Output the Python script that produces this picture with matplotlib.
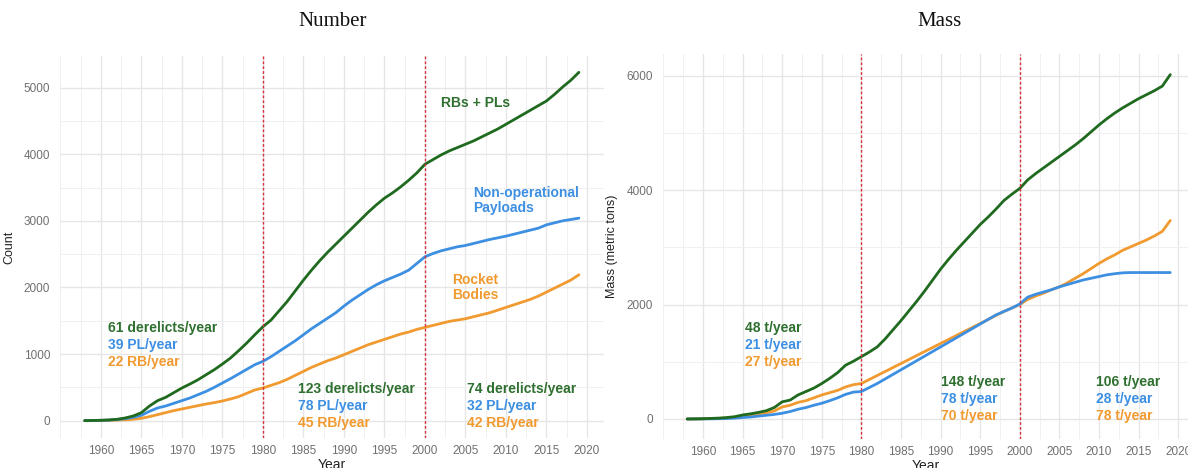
import numpy as np
import matplotlib
matplotlib.use('Agg')
import matplotlib.pyplot as plt
from matplotlib.ticker import MultipleLocator

# ---------------------------------------------------------------------------
# Data (cumulative derelicts per year)
# ---------------------------------------------------------------------------
years = np.arange(1958, 2020)

# Number of objects
num_total = [0, 2, 5, 10, 20, 40, 70, 120, 220, 300, 350, 420, 490, 550, 615, 690,
             765, 850, 940, 1050, 1165, 1290, 1410, 1510, 1650, 1790, 1950, 2110, 2260,
             2400, 2530, 2650, 2770, 2890, 3010, 3130, 3240, 3340, 3420, 3510, 3610,
             3720, 3850, 3920, 3990, 4050, 4100, 4150, 4200, 4260, 4320, 4380, 4450,
             4520, 4590, 4660, 4730, 4800, 4900, 5010, 5110, 5230]
num_payloads = [0, 2, 5, 8, 15, 30, 50, 80, 140, 190, 220, 260, 300, 340, 390, 440,
                500, 565, 630, 700, 770, 840, 890, 960, 1040, 1120, 1200, 1290, 1380,
                1460, 1540, 1620, 1720, 1810, 1890, 1970, 2040, 2100, 2150, 2200, 2260,
                2360, 2460, 2510, 2550, 2580, 2610, 2630, 2660, 2690, 2720, 2745, 2770,
                2800, 2830, 2860, 2890, 2940, 2970, 3000, 3020, 3040]
num_rockets = [0, 1, 3, 5, 8, 12, 20, 35, 60, 90, 120, 150, 175, 200, 225, 250,
               270, 295, 325, 360, 410, 460, 490, 530, 570, 620, 680, 740, 800,
               850, 900, 940, 990, 1040, 1090, 1140, 1180, 1220, 1260, 1300, 1330,
               1370, 1400, 1430, 1460, 1490, 1510, 1530, 1560, 1590, 1620, 1660, 1700,
               1740, 1780, 1820, 1870, 1930, 1990, 2050, 2110, 2190]

# Mass (metric tons)
mass_total = [0, 2, 5, 10, 15, 25, 40, 70, 90, 115, 145, 200, 300, 330, 420, 480,
              540, 620, 710, 810, 940, 1010, 1090, 1170, 1260, 1400, 1560, 1720, 1890,
              2060, 2240, 2430, 2620, 2790, 2950, 3100, 3250, 3400, 3530, 3670, 3820,
              3930, 4030, 4180, 4290, 4390, 4490, 4590, 4690, 4790, 4900, 5020, 5140,
              5250, 5350, 5440, 5520, 5600, 5670, 5740, 5820, 6020]
mass_payloads = [0, 0, 1, 3, 5, 8, 15, 25, 35, 50, 65, 80, 100, 130, 170, 200,
                 240, 275, 320, 370, 430, 470, 480, 550, 620, 700, 780, 860, 940,
                 1020, 1100, 1180, 1260, 1340, 1420, 1500, 1580, 1660, 1740, 1820, 1880,
                 1940, 2010, 2130, 2180, 2220, 2260, 2310, 2350, 2390, 2430, 2460, 2490,
                 2520, 2540, 2555, 2560, 2560, 2560, 2560, 2560, 2560]
mass_rockets = [0, 1, 3, 6, 10, 18, 30, 50, 70, 90, 110, 140, 210, 240, 290, 320,
                370, 420, 460, 500, 560, 600, 620, 690, 760, 830, 900, 970, 1040,
                1110, 1180, 1250, 1320, 1390, 1460, 1530, 1600, 1670, 1740, 1810, 1880,
                1940, 2000, 2090, 2150, 2200, 2260, 2310, 2380, 2460, 2540, 2630, 2720,
                2800, 2870, 2950, 3010, 3070, 3130, 3200, 3280, 3470]

breaks = [1980, 2000]

num_rates = [
    ['61 derelicts/year', '39 PL/year', '22 RB/year'],
    ['123 derelicts/year', '78 PL/year', '45 RB/year'],
    ['74 derelicts/year', '32 PL/year', '42 RB/year'],
]
mass_rates = [
    ['48 t/year', '21 t/year', '27 t/year'],
    ['148 t/year', '78 t/year', '70 t/year'],
    ['106 t/year', '28 t/year', '78 t/year'],
]

GREEN = '#1f6a1f'
GREEN_TXT = '#2f7030'
BLUE = '#3d8fe2'
ORANGE = '#f19a30'
RED = '#d4323c'

plt.rcParams['font.family'] = ['Liberation Sans', 'DejaVu Sans']

fig = plt.figure(figsize=(11.88, 4.68), dpi=100)
W, H = 1188, 468


def px_axes(x0, y0, x1, y1):
    return fig.add_axes([x0 / W, 1 - y1 / H, (x1 - x0) / W, (y1 - y0) / H])


def style_axes(ax, ymajor, yminor):
    ax.set_facecolor('white')
    for s in ax.spines.values():
        s.set_visible(False)
    ax.xaxis.set_major_locator(MultipleLocator(5))
    ax.xaxis.set_minor_locator(MultipleLocator(2.5))
    ax.yaxis.set_major_locator(MultipleLocator(ymajor))
    ax.yaxis.set_minor_locator(MultipleLocator(yminor))
    ax.grid(which='major', color='#e6e6e6', lw=1.0)
    ax.grid(which='minor', color='#f0f0f0', lw=0.7)
    ax.set_axisbelow(True)
    ax.tick_params(which='both', length=0, labelsize=8.5, colors='#707070', pad=5)
    ax.tick_params(axis='y', pad=7)


def draw_series(ax, total, payloads, rockets):
    ax.plot(years, rockets, color=ORANGE, lw=2.0, solid_capstyle='round')
    ax.plot(years, payloads, color=BLUE, lw=2.0, solid_capstyle='round')
    ax.plot(years, total, color=GREEN, lw=2.0, solid_capstyle='round')
    for b in breaks:
        ax.axvline(b, color=RED, lw=1.0, ls=(0, (2, 1.5)))


def rate_block(ax, x, y, lines, dy):
    cols = [GREEN_TXT, BLUE, ORANGE]
    for k, (txt, c) in enumerate(zip(lines, cols)):
        ax.text(x, y - k * dy, txt, color=c, fontsize=10, ha='left', va='center',
                fontweight='semibold')


# ---------------------------------------------------------------------------
# Number panel
# ---------------------------------------------------------------------------
ax1 = px_axes(60, 56, 604, 438)
style_axes(ax1, 1000, 500)
draw_series(ax1, num_total, num_payloads, num_rockets)
ax1.set_xlim(1954.95, 2022.1)
ax1.set_ylim(-261, 5475)
ax1.set_xticks(range(1960, 2021, 5))
ax1.set_ylabel('Count', fontsize=9, color='#222222', labelpad=6)
ax1.set_xlabel('Year', fontsize=10, color='#222222', labelpad=1)

dy = 257
rate_block(ax1, 1960.9, 1396, num_rates[0], dy)
rate_block(ax1, 1984.3, 480, num_rates[1], dy)
rate_block(ax1, 2005.2, 480, num_rates[2], dy)
ax1.text(2002.0, 4775, 'RBs + PLs', color=GREEN_TXT, fontsize=10, ha='left',
         va='center', fontweight='semibold')
ax1.text(2005.9, 3303, 'Non-operational\nPayloads', color=BLUE, fontsize=10,
         ha='left', va='center', fontweight='semibold', linespacing=1.15)
ax1.text(2003.3, 2000, 'Rocket\nBodies', color=ORANGE, fontsize=10,
         ha='left', va='center', fontweight='semibold', linespacing=1.15)

# ---------------------------------------------------------------------------
# Mass panel
# ---------------------------------------------------------------------------
ax2 = px_axes(663, 54, 1188, 439)
style_axes(ax2, 2000, 1000)
draw_series(ax2, mass_total, mass_payloads, mass_rockets)
ax2.set_xlim(1954.95, 2021.24)
ax2.set_ylim(-350, 6381)
ax2.set_xticks(range(1960, 2021, 5))
ax2.set_ylabel('Mass (metric tons)', fontsize=9, color='#222222', labelpad=6)
ax2.set_xlabel('Year', fontsize=10, color='#222222', labelpad=1)

dy2 = 300
rate_block(ax2, 1965.3, 1591, mass_rates[0], dy2)
rate_block(ax2, 1990.05, 647, mass_rates[1], dy2)
rate_block(ax2, 2009.6, 647, mass_rates[2], dy2)

# Panel titles
fig.text(333 / W, 1 - 22 / H, 'Number', family='Liberation Serif', fontsize=15,
         ha='center', va='center', color='#111111')
fig.text(940 / W, 1 - 22 / H, 'Mass', family='Liberation Serif', fontsize=15,
         ha='center', va='center', color='#111111')

fig.savefig('out.png', dpi=100, facecolor='white')
